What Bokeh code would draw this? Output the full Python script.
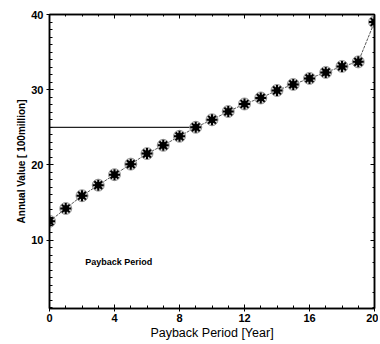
from bokeh.plotting import figure
from bokeh.models import LinearAxis, Range1d, FixedTicker, Label, CustomJSTickFormatter
from bokeh.embed import file_html
from bokeh.resources import INLINE

years = [0, 1, 2, 3, 4, 5, 6, 7, 8, 9, 10, 11, 12, 13, 14, 15, 16, 17, 18, 19, 20]
annual_value = [12.5, 14.2, 15.9, 17.3, 18.7, 20.1, 21.5, 22.6, 23.8, 25.0, 26.0,
                27.1, 28.1, 28.9, 29.9, 30.7, 31.5, 32.3, 33.1, 33.7, 39.0]
payback_level = 25.0
payback_year = 8.9
x_ticks = [0, 4, 8, 12, 16, 20]
y_ticks = [10, 20, 30, 40]

FONT = "Liberation Sans"

p = figure(width=378, height=342, output_backend="svg", toolbar_location=None,
           x_range=Range1d(0, 20), y_range=Range1d(0.9, 40),
           min_border_left=49, min_border_right=4, min_border_top=14, min_border_bottom=34)
p.background_fill_color = "white"
p.border_fill_color = "white"
p.outline_line_color = "black"
p.outline_line_width = 1.5
p.grid.visible = False

# payback reference line
p.line([0, payback_year], [payback_level, payback_level], line_color="#222222", line_width=1.2)

# data
p.line(years, annual_value, line_color="#555555", line_width=1, line_dash="3 1")
p.scatter(years, annual_value, marker="circle", size=12, fill_color="#bbbbbb",
          line_color="#999999", line_width=1, fill_alpha=0.7)
p.scatter(years, annual_value, marker="asterisk", size=11, line_color="black", line_width=2)
p.scatter(years, annual_value, marker="circle", size=6, fill_color="black", line_color="black")

p.add_layout(Label(x=2.2, y=7.1, text="Payback Period", text_font=FONT, text_color="black",
                   text_font_size="9px", text_font_style="bold", text_baseline="middle"))

for ax in (p.xaxis[0], p.yaxis[0]):
    ax.major_label_text_font = FONT
    ax.major_label_text_font_style = "bold"
    ax.major_label_text_font_size = "11px"
    ax.major_label_text_color = "black"
    ax.axis_label_text_font = FONT
    ax.axis_label_text_color = "black"
    ax.major_tick_in = 4
    ax.major_tick_out = 3
    ax.minor_tick_in = 3
    ax.minor_tick_out = 0
    ax.axis_line_width = 1.5
    ax.major_label_standoff = 3

p.xaxis[0].ticker = FixedTicker(ticks=x_ticks, minor_ticks=list(range(0, 21)))
p.yaxis[0].ticker = FixedTicker(ticks=y_ticks, minor_ticks=list(range(1, 41)))
p.xaxis[0].major_label_standoff = 2
p.xaxis[0].axis_label = "Payback Period [Year]"
p.xaxis[0].axis_label_text_font_size = "12.5px"
p.xaxis[0].axis_label_text_font_style = "normal"
p.xaxis[0].axis_label_standoff = 1
p.yaxis[0].axis_label = "Annual Value [ 100million]"
p.yaxis[0].axis_label_text_font_size = "10px"
p.yaxis[0].axis_label_text_font_style = "bold"
p.yaxis[0].axis_label_standoff = 1

top = LinearAxis(ticker=FixedTicker(ticks=x_ticks, minor_ticks=list(range(0, 21))),
                 formatter=CustomJSTickFormatter(code="return '';"), major_label_standoff=0,
                 major_tick_in=4, major_tick_out=0,
                 minor_tick_in=2, minor_tick_out=0, axis_line_width=1.5)
right = LinearAxis(ticker=FixedTicker(ticks=y_ticks, minor_ticks=list(range(1, 41, 2))),
                   formatter=CustomJSTickFormatter(code="return '';"), major_label_standoff=0,
                   major_tick_in=4, major_tick_out=0,
                   minor_tick_in=2, minor_tick_out=0, axis_line_width=1.5)
p.add_layout(top, "above")
p.add_layout(right, "right")

open("out.html", "w").write(file_html(p, INLINE))
